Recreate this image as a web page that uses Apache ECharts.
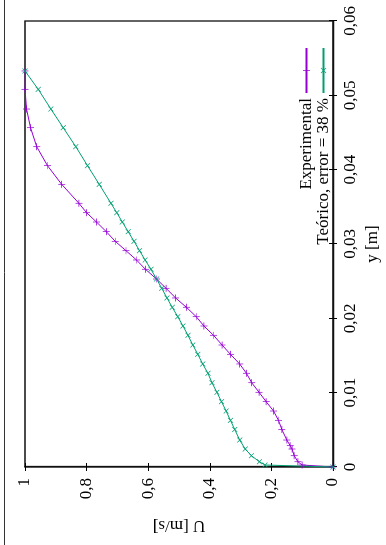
<!DOCTYPE html>
<html>
<head>
<meta charset="utf-8">
<script src="https://cdn.jsdelivr.net/npm/echarts@6/dist/echarts.min.js"></script>
<style>
  html, body { margin: 0; padding: 0; background: #fff; overflow: hidden; width: 386px; height: 545px; }
  #chart { position: absolute; left: 0; top: 0; width: 545px; height: 386px;
           transform-origin: 0 0; transform: translate(0, 545px) rotate(-90deg); }
</style>
</head>
<body>
<div id="chart"></div>
<script>
// Position across the channel (y [m]) and velocity (U [m/s])
const yExp = [0, 0.00027, 0.00071, 0.00152, 0.00242, 0.00287, 0.00363, 0.00505, 0.00628, 0.00753,
  0.00879, 0.01005, 0.01134, 0.01261, 0.01386, 0.01516, 0.01641, 0.01772, 0.01897, 0.02022,
  0.02149, 0.02274, 0.02404, 0.02529, 0.02660, 0.02785, 0.02910, 0.03036, 0.03166, 0.03296,
  0.03421, 0.03548, 0.03803, 0.04054, 0.04309, 0.04565, 0.04816, 0.05081, 0.05328];
const uExp = [0, 0.100, 0.114, 0.126, 0.133, 0.139, 0.150, 0.166, 0.177, 0.193,
  0.217, 0.240, 0.264, 0.281, 0.303, 0.333, 0.360, 0.388, 0.419, 0.444,
  0.476, 0.511, 0.542, 0.573, 0.609, 0.638, 0.672, 0.707, 0.736, 0.768,
  0.800, 0.825, 0.881, 0.927, 0.962, 0.982, 0.995, 1.0, 1.0];

const yTeo = [0, 0.00027, 0.00071, 0.00152, 0.00242, 0.00363, 0.00505, 0.00628, 0.00753,
  0.00879, 0.01005, 0.01134, 0.01261, 0.01386, 0.01516, 0.01641, 0.01772, 0.01897, 0.02022,
  0.02149, 0.02274, 0.02404, 0.02529, 0.02660, 0.02785, 0.02910, 0.03036, 0.03166, 0.03296,
  0.03421, 0.03548, 0.03803, 0.04054, 0.04309, 0.04565, 0.04816, 0.05081, 0.05328];
const uTeo = [0, 0.221, 0.239, 0.265, 0.285, 0.303, 0.319, 0.333, 0.347,
  0.362, 0.377, 0.393, 0.406, 0.423, 0.439, 0.455, 0.471, 0.487, 0.504,
  0.522, 0.539, 0.556, 0.573, 0.591, 0.610, 0.628, 0.646, 0.665, 0.684,
  0.702, 0.721, 0.759, 0.797, 0.835, 0.876, 0.916, 0.957, 1.0];

const seriesNames = ['Experimental', 'Teórico, error = 38 %'];
const seriesColors = ['#9400d3', '#009e73'];
const xTicks = { min: 0, max: 0.06, interval: 0.01 };
const yTicks = { min: 0, max: 1, interval: 0.2 };
const xName = 'y [m]';
const yName = 'U [m/s]';

const FONT = "'Liberation Serif', 'DejaVu Serif', serif";
const plusPath = 'path://M4.5,0 H5.5 V4.5 H10 V5.5 H5.5 V10 H4.5 V5.5 H0 V4.5 H4.5 Z';
const fmt = v => String(Math.round(v * 100) / 100).replace('.', ',');

const chart = echarts.init(document.getElementById('chart'), null, { renderer: 'canvas' });

const labelStyle = { color: '#000', fontFamily: FONT, fontSize: 17 };

chart.setOption({
  animation: false,
  backgroundColor: '#fff',
  grid: { left: 78, right: 21, top: 25, bottom: 51, show: true, borderColor: '#111', borderWidth: 1.3 },
  legend: [
    { data: [seriesNames[0]], orient: 'vertical', align: 'right', right: 42, top: 293,
      itemWidth: 45, itemHeight: 9, textStyle: labelStyle, selectedMode: false },
    { data: [seriesNames[1]], orient: 'vertical', align: 'right', right: 42, top: 310,
      itemWidth: 45, itemHeight: 9, textStyle: labelStyle, selectedMode: false }
  ],
  xAxis: [
    { type: 'value', min: xTicks.min, max: xTicks.max, interval: xTicks.interval, position: 'bottom',
      name: xName, nameLocation: 'middle', nameGap: 31, nameTextStyle: labelStyle,
      axisLine: { show: true, lineStyle: { color: '#111', width: 1.3 } },
      axisTick: { inside: true, length: 4, lineStyle: { color: '#000' } },
      axisLabel: Object.assign({ margin: 9, formatter: fmt }, labelStyle),
      splitLine: { show: false } },
    { type: 'value', min: xTicks.min, max: xTicks.max, interval: xTicks.interval, position: 'top',
      axisLine: { show: false }, axisTick: { inside: true, length: 4, lineStyle: { color: '#000' } },
      axisLabel: { show: false }, splitLine: { show: false } }
  ],
  yAxis: [
    { type: 'value', min: yTicks.min, max: yTicks.max, interval: yTicks.interval, position: 'left',
      name: yName, nameLocation: 'middle', nameGap: 50, nameTextStyle: labelStyle,
      axisLine: { show: true, lineStyle: { color: '#111', width: 1.3 } },
      axisTick: { inside: true, length: 4, lineStyle: { color: '#000' } },
      axisLabel: Object.assign({ margin: 11, formatter: fmt }, labelStyle),
      splitLine: { show: false } },
    { type: 'value', min: yTicks.min, max: yTicks.max, interval: yTicks.interval, position: 'right',
      axisLine: { show: false }, axisTick: { inside: true, length: 4, lineStyle: { color: '#000' } },
      axisLabel: { show: false }, splitLine: { show: false } }
  ],
  graphic: [
    { type: 'line', shape: { x1: 0, y1: 4.5, x2: 545, y2: 4.5 }, style: { stroke: '#333', lineWidth: 1 } }
  ],
  series: [
    { name: seriesNames[0], type: 'line', xAxisIndex: 0, yAxisIndex: 0,
      data: yExp.map((y, i) => [y, uExp[i]]),
      symbol: plusPath, symbolSize: 7, showAllSymbol: true,
      lineStyle: { color: seriesColors[0], width: 1 },
      itemStyle: { color: seriesColors[0] } },
    { name: seriesNames[1], type: 'line', xAxisIndex: 0, yAxisIndex: 0,
      data: yTeo.map((y, i) => [y, uTeo[i]]),
      symbol: plusPath, symbolSize: 7, symbolRotate: 45, showAllSymbol: true,
      lineStyle: { color: seriesColors[1], width: 1 },
      itemStyle: { color: seriesColors[1] } }
  ]
});
</script>
</body>
</html>
